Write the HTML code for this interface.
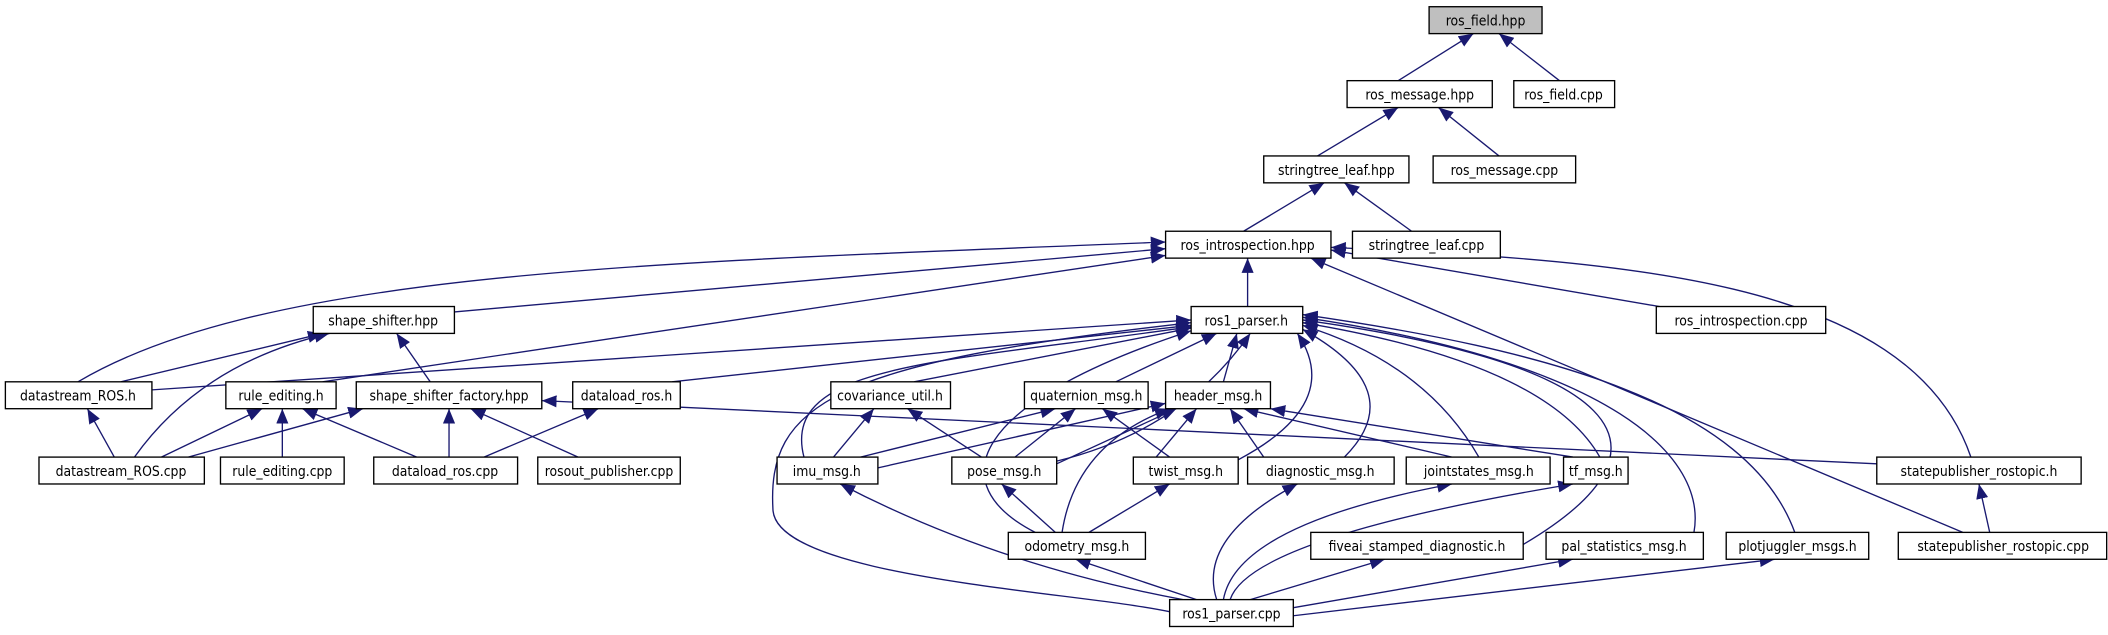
<!DOCTYPE html>
<html><head><meta charset="utf-8"><style>
html,body{margin:0;padding:0;background:#fff;width:2108px;height:635px;overflow:hidden}
svg{display:block}
text{font-family:"DejaVu Sans Condensed","Liberation Sans",sans-serif;font-size:10.3px;fill:#000}
.e{fill:none;stroke:#191970;stroke-width:1;marker-start:url(#a)}
.n{fill:#fff;stroke:#000;stroke-width:1}
</style></head><body>
<svg width="2108" height="635" viewBox="0 0 2108 635" xmlns="http://www.w3.org/2000/svg">
<defs><marker id="a" markerUnits="userSpaceOnUse" markerWidth="11" markerHeight="9" refX="11" refY="4.5" orient="auto-start-reverse"><path d="M0,0 L11,4.5 L0,9 z" fill="#191970"/></marker></defs>
<g transform="scale(1.3444)">
<g>
<path class="e" d="M1096,25 L1040,60"/>
<path class="e" d="M1115,25 L1160,60"/>
<path class="e" d="M1040,80 L980,116"/>
<path class="e" d="M1070,80 L1115,116"/>
<path class="e" d="M985,136 L925,172"/>
<path class="e" d="M1000,136 L1050,172"/>
<path class="e" d="M928,192 L928,228"/>
<path class="e" d="M867,185 L338,232"/>
<path class="e" d="M867,180 C500,195 200,200 58,284"/>
<path class="e" d="M867,190 L240,284"/>
<path class="e" d="M990,186 L1240,229"/>
<path class="e" d="M990,184 C1200,194 1420,205 1466,340"/>
<path class="e" d="M975,192 L1460,396"/>
<path class="e" d="M240,248 L90,284"/>
<path class="e" d="M245,248 Q150,270 100,340"/>
<path class="e" d="M295,248 L320,284"/>
<path class="e" d="M886,238 L113,290"/>
<path class="e" d="M886,242 L500,284"/>
<path class="e" d="M886,244 L680,284"/>
<path class="e" d="M905,248 L830,284"/>
<path class="e" d="M920,248 L910,284"/>
<path class="e" d="M886,243 C700,270 580,270 598,340"/>
<path class="e" d="M930,248 Q880,320 786,343"/>
<path class="e" d="M965,248 Q1000,300 921,342"/>
<path class="e" d="M969,245 Q1050,290 1000,340"/>
<path class="e" d="M969,242 Q1060,270 1100,340"/>
<path class="e" d="M969,240 Q1150,270 1190,340"/>
<path class="e" d="M886,246 C720,300 700,360 770,396"/>
<path class="e" d="M969,238 C1200,270 1260,330 1133,405"/>
<path class="e" d="M969,236 C1200,270 1270,340 1260,396"/>
<path class="e" d="M969,234 C1150,260 1300,300 1335,396"/>
<path class="e" d="M886,240 C620,270 570,300 575,380 C580,430 800,440 870,455"/>
<path class="e" d="M195,304 L120,340"/>
<path class="e" d="M210,304 L210,340"/>
<path class="e" d="M225,304 L310,340"/>
<path class="e" d="M65,304 L85,340"/>
<path class="e" d="M270,304 L140,340"/>
<path class="e" d="M334,304 L334,340"/>
<path class="e" d="M350,304 L430,340"/>
<path class="e" d="M403,298 L1396,345"/>
<path class="e" d="M445,304 L360,340"/>
<path class="e" d="M650,304 L620,340"/>
<path class="e" d="M675,304 L730,340"/>
<path class="e" d="M785,304 L640,340"/>
<path class="e" d="M800,304 L755,340"/>
<path class="e" d="M820,304 L870,340"/>
<path class="e" d="M867,300 L653,348"/>
<path class="e" d="M875,304 L786,345"/>
<path class="e" d="M890,304 L860,340"/>
<path class="e" d="M915,304 L940,340"/>
<path class="e" d="M925,304 L1080,340"/>
<path class="e" d="M945,304 L1170,340"/>
<path class="e" d="M870,304 Q800,330 790,396"/>
<path class="e" d="M745,360 L785,396"/>
<path class="e" d="M870,360 L810,396"/>
<path class="e" d="M625,360 Q740,420 880,446"/>
<path class="e" d="M800,416 L890,446"/>
<path class="e" d="M965,360 Q890,400 905,446"/>
<path class="e" d="M1080,360 Q920,390 910,446"/>
<path class="e" d="M1170,360 Q930,400 915,446"/>
<path class="e" d="M1030,416 L930,446"/>
<path class="e" d="M1170,416 L962,452"/>
<path class="e" d="M1320,416 L962,458"/>
<path class="e" d="M1472,360 L1480,396"/>
</g>
<g>
<rect x="1063" y="5" width="84" height="20" fill="#bfbfbf" stroke="#000"/><text x="1105" y="19" text-anchor="middle">ros_field.hpp</text>
<rect class="n" x="1002" y="60" width="108" height="20"/><text x="1056" y="74" text-anchor="middle">ros_message.hpp</text>
<rect class="n" x="1126" y="60" width="75" height="20"/><text x="1163" y="74" text-anchor="middle">ros_field.cpp</text>
<rect class="n" x="940" y="116" width="108" height="20"/><text x="994" y="130" text-anchor="middle">stringtree_leaf.hpp</text>
<rect class="n" x="1066" y="116" width="106" height="20"/><text x="1119" y="130" text-anchor="middle">ros_message.cpp</text>
<rect class="n" x="867" y="172" width="123" height="20"/><text x="928" y="186" text-anchor="middle">ros_introspection.hpp</text>
<rect class="n" x="1006" y="172" width="110" height="20"/><text x="1061" y="186" text-anchor="middle">stringtree_leaf.cpp</text>
<rect class="n" x="233" y="228" width="105" height="20"/><text x="285" y="242" text-anchor="middle">shape_shifter.hpp</text>
<rect class="n" x="886" y="228" width="83" height="20"/><text x="927" y="242" text-anchor="middle">ros1_parser.h</text>
<rect class="n" x="1232" y="228" width="126" height="20"/><text x="1295" y="242" text-anchor="middle">ros_introspection.cpp</text>
<rect class="n" x="4" y="284" width="109" height="20"/><text x="58" y="298" text-anchor="middle">datastream_ROS.h</text>
<rect class="n" x="168" y="284" width="82" height="20"/><text x="209" y="298" text-anchor="middle">rule_editing.h</text>
<rect class="n" x="265" y="284" width="138" height="20"/><text x="334" y="298" text-anchor="middle">shape_shifter_factory.hpp</text>
<rect class="n" x="426" y="284" width="80" height="20"/><text x="466" y="298" text-anchor="middle">dataload_ros.h</text>
<rect class="n" x="618" y="284" width="89" height="20"/><text x="662" y="298" text-anchor="middle">covariance_util.h</text>
<rect class="n" x="762" y="284" width="92" height="20"/><text x="808" y="298" text-anchor="middle">quaternion_msg.h</text>
<rect class="n" x="867" y="284" width="78" height="20"/><text x="906" y="298" text-anchor="middle">header_msg.h</text>
<rect class="n" x="29" y="340" width="123" height="20"/><text x="90" y="354" text-anchor="middle">datastream_ROS.cpp</text>
<rect class="n" x="164" y="340" width="92" height="20"/><text x="210" y="354" text-anchor="middle">rule_editing.cpp</text>
<rect class="n" x="278" y="340" width="107" height="20"/><text x="331" y="354" text-anchor="middle">dataload_ros.cpp</text>
<rect class="n" x="400" y="340" width="106" height="20"/><text x="453" y="354" text-anchor="middle">rosout_publisher.cpp</text>
<rect class="n" x="578" y="340" width="75" height="20"/><text x="615" y="354" text-anchor="middle">imu_msg.h</text>
<rect class="n" x="708" y="340" width="78" height="20"/><text x="747" y="354" text-anchor="middle">pose_msg.h</text>
<rect class="n" x="843" y="340" width="78" height="20"/><text x="882" y="354" text-anchor="middle">twist_msg.h</text>
<rect class="n" x="928" y="340" width="109" height="20"/><text x="982" y="354" text-anchor="middle">diagnostic_msg.h</text>
<rect class="n" x="1046" y="340" width="107" height="20"/><text x="1100" y="354" text-anchor="middle">jointstates_msg.h</text>
<rect class="n" x="1163" y="340" width="48" height="20"/><text x="1187" y="354" text-anchor="middle">tf_msg.h</text>
<rect class="n" x="1396" y="340" width="152" height="20"/><text x="1472" y="354" text-anchor="middle">statepublisher_rostopic.h</text>
<rect class="n" x="750" y="396" width="102" height="20"/><text x="801" y="410" text-anchor="middle">odometry_msg.h</text>
<rect class="n" x="975" y="396" width="158" height="20"/><text x="1054" y="410" text-anchor="middle">fiveai_stamped_diagnostic.h</text>
<rect class="n" x="1150" y="396" width="117" height="20"/><text x="1208" y="410" text-anchor="middle">pal_statistics_msg.h</text>
<rect class="n" x="1284" y="396" width="106" height="20"/><text x="1337" y="410" text-anchor="middle">plotjuggler_msgs.h</text>
<rect class="n" x="1412" y="396" width="155" height="20"/><text x="1490" y="410" text-anchor="middle">statepublisher_rostopic.cpp</text>
<rect class="n" x="870" y="446" width="92" height="20"/><text x="916" y="460" text-anchor="middle">ros1_parser.cpp</text>
</g>
</g>
</svg>
</body></html>
